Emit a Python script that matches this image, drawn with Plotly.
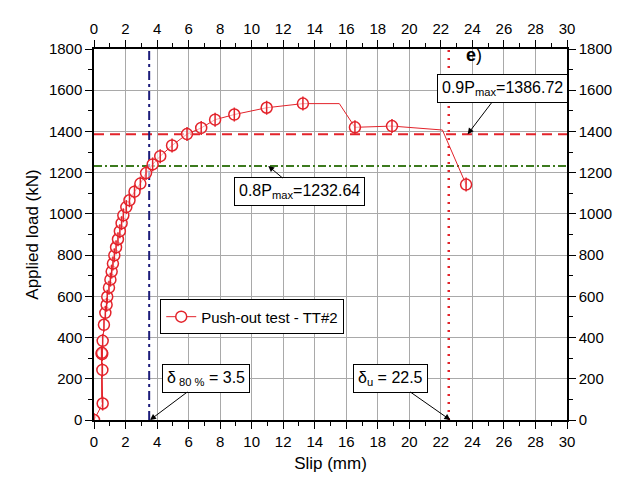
import plotly.graph_objects as go

# Slip (mm) and load (kN) of the measured curve (line path)
slip = [0, 0.55, 0.48, 0.50, 0.52, 0.53, 0.50, 0.55, 0.63, 0.72, 0.80, 0.84, 0.95, 1.04, 1.12,
        1.20, 1.29, 1.40, 1.52, 1.64, 1.75, 1.86, 2.05, 2.25, 2.57, 2.94, 3.30, 3.72, 4.20,
        4.95, 5.90, 6.80, 7.68, 8.90, 10.95, 13.25, 15.56, 16.55, 18.90, 22.10, 23.60]
load = [0, 80, 322, 85, 320, 243, 326, 384, 462, 520, 559, 598, 642, 681, 720,
        759, 799, 838, 877, 916, 955, 993, 1033, 1066, 1108, 1147, 1198, 1240, 1280,
        1332, 1387, 1417, 1457, 1482, 1515, 1535, 1535, 1420, 1426, 1407, 1142]
# which points carry a marker (1) or are line-only (0)
has_marker = [1, 1, 1, 0, 1, 1, 1, 1, 1, 1, 1, 1, 1, 1, 1,
              1, 1, 1, 1, 1, 1, 1, 1, 1, 1, 1, 1, 1, 1,
              1, 1, 1, 1, 1, 1, 1, 0, 1, 1, 0, 1]

p09 = 1386.72
p08 = 1232.64
d80 = 3.5
du = 22.5

mx = [x for x, m in zip(slip, has_marker) if m]
my = [y for y, m in zip(load, has_marker) if m]

RED = "#e3232b"
fig = go.Figure()

# reference lines
fig.add_trace(go.Scatter(x=[0, 30], y=[p09, p09], mode="lines", showlegend=False,
                         line=dict(color=RED, width=2, dash="10px,6px")))
fig.add_trace(go.Scatter(x=[0, 30], y=[p08, p08], mode="lines", showlegend=False,
                         line=dict(color="#3c7a1e", width=2, dash="8px,3px,2px,3px")))
fig.add_trace(go.Scatter(x=[d80, d80], y=[0, 1800], mode="lines", showlegend=False,
                         line=dict(color="#1c1c7a", width=2, dash="9px,4px,3px,4px")))
fig.add_trace(go.Scatter(x=[du, du], y=[0, 1800], mode="lines", showlegend=False,
                         line=dict(color=RED, width=2.5, dash="2px,6px")))

# data
fig.add_trace(go.Scatter(x=slip, y=load, mode="lines", showlegend=False,
                         line=dict(color=RED, width=1)))
fig.add_trace(go.Scatter(x=mx, y=my, mode="markers", showlegend=False,
                         marker=dict(symbol="circle", size=11, color="rgba(255,255,255,0.6)",
                                     line=dict(color=RED, width=1.5))))
fig.add_trace(go.Scatter(x=mx, y=my, mode="markers", showlegend=False, hoverinfo="skip",
                         marker=dict(symbol="line-ns-open", size=10, color=RED,
                                     line=dict(color=RED, width=1.5))))
fig.add_trace(go.Scatter(x=[None], y=[None], mode="lines+markers", name="Push-out test - TT#2",
                         line=dict(color=RED, width=1),
                         marker=dict(symbol="circle", size=11, color="white",
                                     line=dict(color=RED, width=1.5))))
# invisible trace for the mirrored axes
fig.add_trace(go.Scatter(x=[0], y=[0], xaxis="x2", yaxis="y2", mode="markers",
                         marker=dict(opacity=0), showlegend=False, hoverinfo="skip"))

font = "Liberation Sans, Arial, sans-serif"
axis_common = dict(showline=True, linecolor="black", linewidth=1.5, ticks="outside",
                   ticklen=7, tickwidth=1.2, tickcolor="black", zeroline=False,
                   tickfont=dict(family=font, size=15, color="black"))

fig.update_layout(
    width=621, height=479,
    margin=dict(l=86, r=62, t=29, b=67),
    paper_bgcolor="white", plot_bgcolor="white",
    font=dict(family=font, size=15, color="black"),
    xaxis=dict(range=[0, 30], dtick=2, showgrid=True, gridcolor="#a9a9a9", gridwidth=1,
               minor=dict(dtick=1, ticklen=4, ticks="outside", tickcolor="black", showgrid=False),
               title=dict(text="Slip (mm)", font=dict(family=font, size=17), standoff=8),
               **axis_common),
    yaxis=dict(range=[0, 1800], dtick=200, showgrid=True, gridcolor="#a9a9a9", gridwidth=1,
               minor=dict(dtick=100, ticklen=4, ticks="outside", tickcolor="black", showgrid=False),
               title=dict(text="Applied load (kN)", font=dict(family=font, size=17), standoff=6),
               **axis_common),
    xaxis2=dict(range=[0, 30], dtick=2, overlaying="x", side="top", anchor="y", showgrid=False,
                minor=dict(dtick=1, ticklen=4, ticks="outside", tickcolor="black"),
                **axis_common),
    yaxis2=dict(range=[0, 1800], dtick=200, overlaying="y", side="right", anchor="x", showgrid=False,
                minor=dict(dtick=100, ticklen=4, ticks="outside", tickcolor="black"),
                **axis_common),
    legend=dict(x=0.14, y=0.325, xanchor="left", yanchor="top", bgcolor="white",
                bordercolor="black", borderwidth=1, font=dict(family=font, size=15)),
    showlegend=True,
)

ann_font = dict(family=font, size=16, color="black")
box = dict(bgcolor="white", bordercolor="black", borderwidth=1, borderpad=4,
           showarrow=True, arrowhead=2, arrowsize=1.2, arrowwidth=1, arrowcolor="black",
           font=ann_font, xref="x", yref="y")
fig.add_annotation(x=23.7, y=p09, ax=35, ay=-46, text="0.9P<sub>max</sub>=1386.72", **box)
fig.add_annotation(x=11.05, y=p08, ax=31, ay=26, text="0.8P<sub>max</sub>=1232.64", **box)
fig.add_annotation(x=3.55, y=0, ax=56, ay=-42, text="δ<sub> 80 %</sub> = 3.5", **box)
fig.add_annotation(x=22.6, y=0, ax=-60, ay=-42, text="δ<sub>u</sub> = 22.5", **box)
fig.add_annotation(x=24.1, y=1770, text="<b>e</b>)", showarrow=False, xref="x", yref="y",
                   font=dict(family=font, size=18, color="black"))

fig.write_html("out.html")
